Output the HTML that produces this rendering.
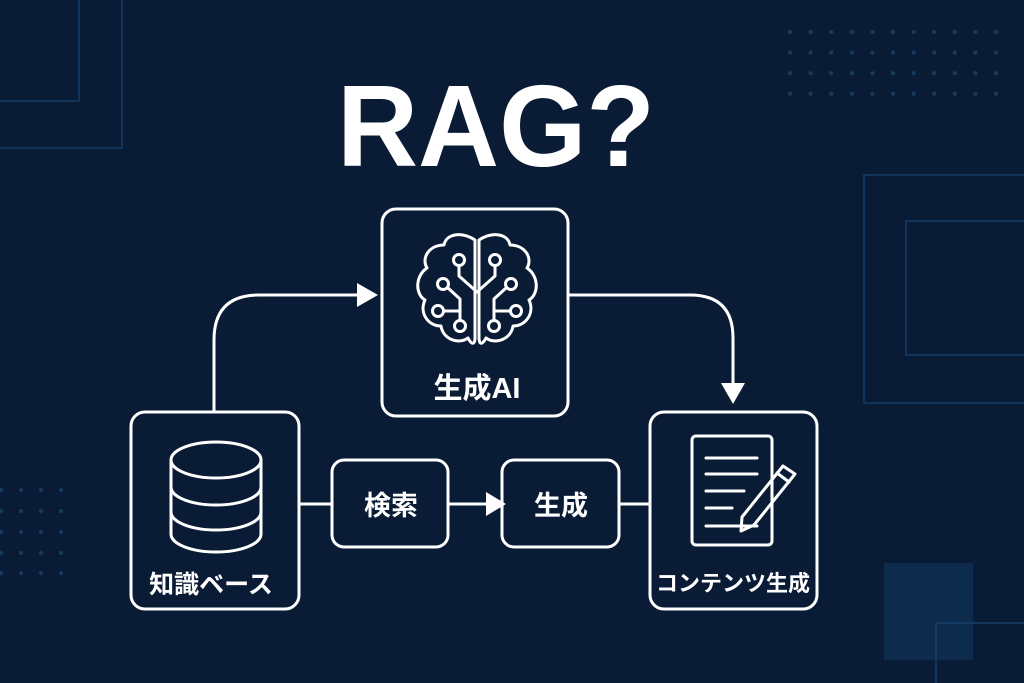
<!DOCTYPE html>
<html><head><meta charset="utf-8"><style>
html,body{margin:0;padding:0}
body{width:1024px;height:683px;background:#0a1c35;overflow:hidden;position:relative;font-family:"Liberation Sans","Noto Sans CJK JP",sans-serif}
svg{position:absolute;left:0;top:0}
</style></head><body>
<svg width="1024" height="683" viewBox="0 0 1024 683">
<defs>
<pattern id="d" x="780" y="22" width="20.6" height="20.6" patternUnits="userSpaceOnUse"><circle cx="10" cy="10" r="2" fill="#173c63"/></pattern>
</defs>
<rect width="1024" height="683" fill="#0a1c35"/>
<g fill="none" stroke="#163c66" stroke-width="1.5">
<rect x="-5" y="-5" width="84" height="106"/>
<rect x="-5" y="-5" width="127" height="153"/>
<rect x="864" y="175" width="200" height="228"/>
<rect x="906" y="221" width="150" height="134"/>
</g>
<rect x="780" y="22" width="227" height="82" fill="url(#d)"/>
<g fill="#173c63"><circle cx="1" cy="490" r="2"/><circle cx="21" cy="490" r="2"/><circle cx="41" cy="490" r="2"/><circle cx="61" cy="490" r="2"/>
<circle cx="1" cy="511" r="2"/><circle cx="21" cy="511" r="2"/><circle cx="41" cy="511" r="2"/><circle cx="61" cy="511" r="2"/>
<circle cx="1" cy="532" r="2"/><circle cx="21" cy="532" r="2"/><circle cx="41" cy="532" r="2"/><circle cx="61" cy="532" r="2"/>
<circle cx="1" cy="553" r="2"/><circle cx="21" cy="553" r="2"/><circle cx="41" cy="553" r="2"/><circle cx="61" cy="553" r="2"/>
<circle cx="1" cy="573" r="2"/><circle cx="21" cy="573" r="2"/><circle cx="41" cy="573" r="2"/><circle cx="61" cy="573" r="2"/></g>
<rect x="884" y="563" width="89" height="97" fill="#0d2b4c"/>
<rect x="936" y="623" width="100" height="80" fill="none" stroke="#173f6a" stroke-width="1.5"/>

<text x="496" y="166" text-anchor="middle" font-size="116" font-weight="bold" fill="#fff" font-family="Liberation Sans, sans-serif" textLength="318" lengthAdjust="spacingAndGlyphs">RAG?</text>

<g fill="none" stroke="#fff" stroke-width="3">
<rect x="382" y="209" width="186" height="207" rx="14"/>
<rect x="131" y="412" width="168" height="197" rx="14"/>
<rect x="332" y="460" width="116" height="87" rx="12"/>
<rect x="502" y="460" width="117" height="87" rx="12"/>
<rect x="650" y="412" width="167" height="197" rx="14"/>
<path d="M214 412 V340 Q214 295 259 295 H362"/>
<path d="M569 295 H690 Q733 295 733 338 V385"/>
<path d="M299 504 H332 M448 504 H488 M619 504 H650"/>
</g>
<g fill="#fff">
<polygon points="378,295 357,283 357,307"/>
<polygon points="733,404 721,383 745,383"/>
<polygon points="506,504 486,492 486,516"/>
</g>

<!-- brain -->
<g fill="none" stroke="#fff" stroke-width="3" stroke-linecap="round" stroke-linejoin="round">
<path d="M475 240 C461 231 446 234 444 245 C429 245 421 258 427 268 C415 276 415 294 425 300 C419 313 428 326 441 326 C443 339 458 345 468 338 C472 346 475 344 475 338 Z"/>
<path d="M479 240 C493 231 508 234 510 245 C525 245 533 258 527 268 C539 276 539 294 529 300 C535 313 526 326 513 326 C511 339 496 345 486 338 C482 346 479 344 479 338 Z"/>
<circle cx="459" cy="260" r="5.5"/><circle cx="443" cy="284" r="5.5"/><circle cx="438" cy="311" r="5.5"/><circle cx="460" cy="326" r="5.5"/>
<circle cx="495" cy="260" r="5.5"/><circle cx="511" cy="284" r="5.5"/><circle cx="516" cy="311" r="5.5"/><circle cx="494" cy="326" r="5.5"/>
<path d="M459 266 V276 L477 292 L495 276 V266"/>
<path d="M448 288 L460 299 V320"/><path d="M444 311 H460"/>
<path d="M506 288 L494 299 V320"/><path d="M510 311 H494"/>
</g>
<text x="477" y="398" text-anchor="middle" font-size="29" font-weight="bold" fill="#fff">生成AI</text>

<!-- database -->
<g fill="none" stroke="#fff" stroke-width="3">
<ellipse cx="216" cy="460" rx="45" ry="18"/>
<path d="M171 460 V534 A45 18 0 0 0 261 534 V460"/>
<path d="M171 487 A45 18 0 0 0 261 487"/>
<path d="M171 512 A45 18 0 0 0 261 512"/>
</g>
<text x="211" y="593" text-anchor="middle" font-size="25" font-weight="bold" fill="#fff">知識ベース</text>

<text x="391" y="515" text-anchor="middle" font-size="27" font-weight="bold" fill="#fff">検索</text>
<text x="561" y="515" text-anchor="middle" font-size="27" font-weight="bold" fill="#fff">生成</text>

<!-- document -->
<g fill="none" stroke="#fff" stroke-width="3" stroke-linecap="round" stroke-linejoin="round">
<rect x="692" y="436" width="80" height="109" rx="4"/>
<path d="M706 458 H757 M706 474 H757 M706 491 H744 M706 508 H732 M706 526 H757"/>
<path d="M742 517 L783 466 L795 474 L754 525 L741 531 Z M777 473 L789 482"/>
</g>
<text x="733" y="591" text-anchor="middle" font-size="22" font-weight="bold" fill="#fff">コンテンツ生成</text>
</svg>
</body></html>
